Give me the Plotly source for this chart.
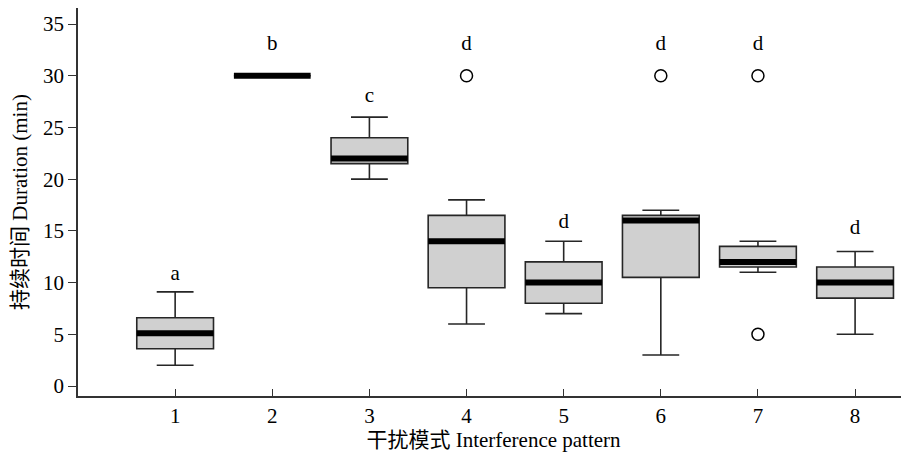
import plotly.graph_objects as go

patterns = [1, 2, 3, 4, 5, 6, 7, 8]
lower_whisker = [2.0, 30, 20, 6, 7, 3, 11, 5]
q1 = [3.6, 30, 21.5, 9.5, 8, 10.5, 11.5, 8.5]
median = [5.1, 30, 22, 14, 10, 16, 12, 10]
q3 = [6.6, 30, 24, 16.5, 12, 16.5, 13.5, 11.5]
upper_whisker = [9.1, 30, 26, 18, 14, 17, 14, 13]

outlier_x = [4, 6, 7, 7]
outlier_y = [30, 30, 30, 5]

letters = ["a", "b", "c", "d", "d", "d", "d", "d"]
letter_y = [10.8, 33, 28, 33, 15.8, 33, 33, 15.2]

BOX_W = 0.79
FONT = "Liberation Serif, Noto Sans CJK SC"
FS = 21

fig = go.Figure()
fig.add_trace(go.Box(
    x=patterns, q1=q1, median=median, q3=q3,
    lowerfence=lower_whisker, upperfence=upper_whisker,
    width=BOX_W, whiskerwidth=0.48,
    fillcolor="#d0d0d0", line=dict(color="#262626", width=1.6),
    boxpoints=False, showlegend=False, hoverinfo="skip",
))

# thick median bars
for xi, m in zip(patterns, median):
    fig.add_trace(go.Scatter(
        x=[xi - BOX_W / 2, xi + BOX_W / 2], y=[m, m], mode="lines",
        line=dict(color="black", width=6), showlegend=False, hoverinfo="skip",
    ))

fig.add_trace(go.Scatter(
    x=outlier_x, y=outlier_y, mode="markers",
    marker=dict(symbol="circle-open", size=12, color="black", line=dict(width=1.5)),
    showlegend=False, hoverinfo="skip",
))

fig.add_trace(go.Scatter(
    x=patterns, y=letter_y, mode="text", text=letters,
    textfont=dict(family=FONT, size=FS, color="black"),
    showlegend=False, hoverinfo="skip",
))

# page body has an 8px margin, so the figure is sized/offset to compensate
fig.update_layout(
    width=901, height=449,
    margin=dict(l=70, r=0, t=0, b=61),
    plot_bgcolor="white", paper_bgcolor="white",
    font=dict(family=FONT, size=FS, color="black"),
    xaxis=dict(
        range=[0, 8.555], tickmode="array", tickvals=patterns,
        ticktext=[str(p) for p in patterns],
        ticks="inside", ticklen=7, tickcolor="#333", tickwidth=1.3,
        showline=True, linecolor="#333", linewidth=1.5,
        showgrid=False, zeroline=False, automargin=False,
        tickfont=dict(family=FONT, size=FS),
        title=dict(text="干扰模式 Interference pattern", standoff=2,
                   font=dict(family=FONT, size=FS)),
    ),
    yaxis=dict(
        range=[-0.967, 36.55], tickvals=[0, 5, 10, 15, 20, 25, 30, 35],
        ticks="outside", ticklen=8, tickcolor="#333", tickwidth=1.3,
        showline=True, linecolor="#333", linewidth=1.5,
        showgrid=False, zeroline=False, automargin=False,
        tickfont=dict(family=FONT, size=FS),
        title=dict(text="持续时间 Duration (min)", standoff=12,
                   font=dict(family=FONT, size=FS)),
    ),
)

fig.write_html("out.html")
